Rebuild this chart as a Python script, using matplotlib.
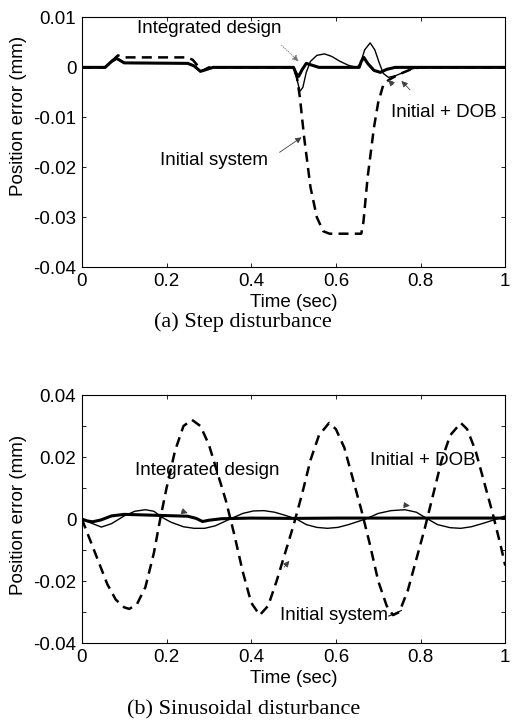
import matplotlib.pyplot as plt
from matplotlib.ticker import MultipleLocator

plt.rcParams['font.family'] = ['Liberation Sans', 'DejaVu Sans']
plt.rcParams['axes.unicode_minus'] = False

# (a) step disturbance
t_init_a = [0, 0.055, 0.07, 0.085, 0.1, 0.25, 0.262, 0.275, 0.285, 0.3, 0.5, 0.508, 0.515,
            0.525, 0.54, 0.555, 0.57, 0.585, 0.66, 0.665, 0.675, 0.69, 0.70, 0.712, 0.725,
            0.74, 0.76, 0.78, 0.8, 1.0]
e_init_a = [0, 0, 0.0012, 0.0024, 0.002, 0.002, 0.0015, 0.0002, -0.0007, 0, 0, -0.002, -0.006,
            -0.014, -0.024, -0.030, -0.0328, -0.0333, -0.0333, -0.031, -0.022, -0.012, -0.007,
            -0.0035, -0.0025, -0.0018, -0.001, -0.0003, 0, 0]

t_dob_a = [0, 0.055, 0.07, 0.082, 0.1, 0.25, 0.265, 0.28, 0.295, 0.31, 0.5, 0.507, 0.515, 0.522,
           0.53, 0.54, 0.555, 0.573, 0.59, 0.61, 0.63, 0.65, 0.658, 0.668, 0.681, 0.692, 0.702,
           0.712, 0.724, 0.74, 0.76, 0.78, 0.8, 1.0]
e_dob_a = [0, 0, 0.001, 0.0018, 0.0009, 0.0008, 0.0003, -0.0008, -0.0004, 0, 0, -0.002, -0.0048,
           -0.004, -0.001, 0.0012, 0.0024, 0.0027, 0.0022, 0.0012, 0.0004, 0, 0.0008, 0.0035,
           0.0049, 0.0035, 0.001, -0.0012, -0.002, -0.0017, -0.001, -0.0003, 0, 0]

t_int_a = [0, 0.055, 0.07, 0.082, 0.1, 0.25, 0.265, 0.28, 0.295, 0.31, 0.5, 0.506, 0.512, 0.52,
           0.53, 0.545, 0.56, 0.655, 0.66, 0.666, 0.675, 0.69, 0.705, 0.72, 0.74, 1.0]
e_int_a = [0, 0, 0.0012, 0.0018, 0.0009, 0.0008, 0.0003, -0.0008, -0.0004, 0, 0, -0.0012,
           -0.0018, -0.0005, 0.0008, 0.0004, 0, 0, 0.0012, 0.002, 0.0008, -0.0006, -0.001,
           -0.0004, 0, 0]

# (b) sinusoidal disturbance
t_init_b = [0, 0.02, 0.04, 0.06, 0.08, 0.10, 0.112, 0.13, 0.15, 0.17, 0.185, 0.20, 0.22, 0.24,
            0.26, 0.28, 0.30, 0.32, 0.34, 0.36, 0.38, 0.40, 0.42, 0.44, 0.46, 0.48, 0.50, 0.52,
            0.54, 0.56, 0.584, 0.60, 0.62, 0.64, 0.66, 0.68, 0.70, 0.72, 0.735, 0.75, 0.77,
            0.79, 0.81, 0.83, 0.85, 0.87, 0.895, 0.91, 0.93, 0.95, 0.97, 0.99, 1.0]
e_init_b = [0, -0.007, -0.014, -0.021, -0.026, -0.0285, -0.029, -0.0275, -0.022, -0.011, 0,
            0.010, 0.022, 0.030, 0.032, 0.030, 0.024, 0.015, 0.006, -0.005, -0.017, -0.027,
            -0.031, -0.028, -0.020, -0.011, -0.002, 0.008, 0.019, 0.027, 0.031, 0.029, 0.023,
            0.013, 0.003, -0.008, -0.020, -0.028, -0.031, -0.030, -0.023, -0.013, -0.003,
            0.008, 0.019, 0.027, 0.031, 0.029, 0.022, 0.012, 0.002, -0.009, -0.015]

t_dob_b = [0, 0.02, 0.046, 0.07, 0.1, 0.125, 0.15, 0.17, 0.19, 0.21, 0.24, 0.265, 0.29, 0.315,
           0.35, 0.38, 0.405, 0.43, 0.455, 0.48, 0.507, 0.53, 0.555, 0.58, 0.605, 0.63, 0.67,
           0.70, 0.73, 0.763, 0.79, 0.817, 0.84, 0.87, 0.895, 0.92, 0.95, 0.98, 1.0]
e_dob_b = [0, -0.0012, -0.0026, -0.0015, 0.001, 0.0025, 0.003, 0.0025, 0.0005, -0.001, -0.0025,
           -0.003, -0.003, -0.0022, 0, 0.0018, 0.0026, 0.0027, 0.0022, 0.0012, 0, -0.0018,
           -0.0027, -0.003, -0.0027, -0.0018, 0, 0.0018, 0.0027, 0.003, 0.0022, 0, -0.0018,
           -0.0028, -0.003, -0.0025, -0.0013, 0, 0.001]

t_int_b = [0, 0.012, 0.025, 0.045, 0.07, 0.1, 0.15, 0.2, 0.25, 0.27, 0.285, 0.3, 0.33, 0.4,
           0.5, 0.6, 0.7, 0.8, 0.9, 1.0]
e_int_b = [0, -0.0006, -0.0009, -0.0003, 0.001, 0.0015, 0.0013, 0.0011, 0.0009, 0.0002,
           -0.0008, -0.0004, 0.0001, 0.0003, 0.0002, 0.0003, 0.0003, 0.0003, 0.0003, 0.0003]

xticks = [0, 0.2, 0.4, 0.6, 0.8, 1.0]
xtick_labels = ['0', '0.2', '0.4', '0.6', '0.8', '1']

fig = plt.figure(figsize=(5.15, 7.26), dpi=100)
ax1 = fig.add_axes([0.159, 0.632, 0.822, 0.344])
ax2 = fig.add_axes([0.159, 0.1143, 0.822, 0.3416])

arrow = dict(arrowstyle='-|>', lw=0.6, color='0.25', mutation_scale=9, shrinkA=0, shrinkB=0)
FS = 13.5


def style(ax, ylabel_y):
    ax.set_xlim(0, 1)
    ax.set_ylim(-0.04, ax.get_ylim()[1])
    ax.set_xticks(xticks)
    ax.set_xticklabels(xtick_labels)
    ax.tick_params(direction='in', length=3, width=0.6, top=True, right=True,
                   labelsize=FS, pad=4)
    ax.tick_params(which='minor', direction='in', length=3, width=0.6, top=True, right=True)
    for s in ax.spines.values():
        s.set_linewidth(0.8)
    ax.set_xlabel('Time (sec)', fontsize=FS, labelpad=3)
    ax.set_ylabel('Position error (mm)', fontsize=FS)
    ax.yaxis.set_label_coords(-0.13, ylabel_y)


# (a)
ax1.plot(t_init_a, e_init_a, 'k--', lw=1.8, dashes=(4, 2.5))
ax1.plot(t_dob_a, e_dob_a, 'k-', lw=1.0)
ax1.plot(t_int_a, e_int_a, 'k-', lw=2.2)
ax1.set_ylim(-0.04, 0.01)
style(ax1, 0.604)
ax1.set_yticks([-0.04, -0.03, -0.02, -0.01, 0, 0.01])
ax1.set_yticklabels(['-0.04', '-0.03', '-0.02', '-0.01', '0', '0.01'])

ax1.text(0.30, 0.0078, 'Integrated design', fontsize=FS, ha='center', va='center')
ax1.annotate('', xy=(0.512, 0.0012), xytext=(0.472, 0.0044),
             arrowprops=dict(arrow, linestyle=':', color='0.45'))
ax1.text(0.855, -0.009, 'Initial + DOB', fontsize=FS, ha='center', va='center')
ax1.annotate('', xy=(0.724, -0.0025), xytext=(0.735, -0.0035), arrowprops=arrow)
ax1.annotate('', xy=(0.755, -0.0027), xytext=(0.775, -0.0045), arrowprops=arrow)
ax1.text(0.312, -0.0186, 'Initial system', fontsize=FS, ha='center', va='center')
ax1.annotate('', xy=(0.519, -0.014), xytext=(0.467, -0.017), arrowprops=arrow)

# (b)
ax2.plot(t_init_b, e_init_b, 'k--', lw=1.8, dashes=(4, 2.5))
ax2.plot(t_dob_b, e_dob_b, 'k-', lw=1.0)
ax2.plot(t_int_b, e_int_b, 'k-', lw=2.2)
ax2.set_ylim(-0.04, 0.04)
style(ax2, 0.516)
ax2.yaxis.set_minor_locator(MultipleLocator(0.01))
ax2.set_yticks([-0.04, -0.02, 0, 0.02, 0.04])
ax2.set_yticklabels(['-0.04', '-0.02', '0', '0.02', '0.04'])

ax2.text(0.295, 0.0158, 'Integrated design', fontsize=FS, ha='center', va='center')
ax2.annotate('', xy=(0.25, 0.0019), xytext=(0.235, 0.0026), arrowprops=arrow)
ax2.text(0.805, 0.019, 'Initial + DOB', fontsize=FS, ha='center', va='center')
ax2.annotate('', xy=(0.775, 0.0043), xytext=(0.76, 0.0045), arrowprops=arrow)
ax2.text(0.595, -0.031, 'Initial system', fontsize=FS, ha='center', va='center')
ax2.plot([0.725, 0.755], [-0.0313, -0.0295], color='k', lw=0.8)
ax2.annotate('', xy=(0.49, -0.0135), xytext=(0.478, -0.0155), arrowprops=arrow)

fig.text(0.472, 0.556, '(a) Step disturbance', fontsize=16, ha='center', va='center',
         family=['Liberation Serif', 'DejaVu Serif'])
fig.text(0.474, 0.022, '(b) Sinusoidal disturbance', fontsize=16, ha='center', va='center',
         family=['Liberation Serif', 'DejaVu Serif'])

fig.savefig('out.png', dpi=100)
